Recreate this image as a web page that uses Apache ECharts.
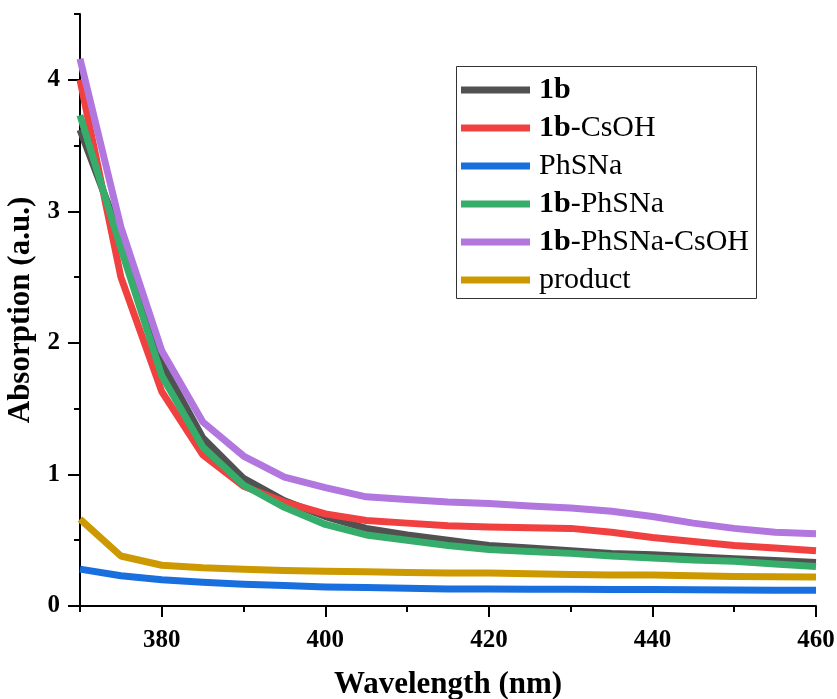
<!DOCTYPE html>
<html>
<head>
<meta charset="utf-8">
<script src="https://cdn.jsdelivr.net/npm/echarts@6/dist/echarts.min.js"></script>
<style>
html,body{margin:0;padding:0;background:#fff;}
#c{width:837px;height:699px;}
</style>
</head>
<body>
<div id="c"></div>
<script>
var wavelengths = [370,375,380,385,390,395,400,405,410,415,420,425,430,435,440,445,450,455,460];
var s1b        = [3.62,2.80,1.85,1.28,0.97,0.80,0.68,0.59,0.54,0.50,0.46,0.44,0.42,0.40,0.39,0.375,0.36,0.345,0.33];
var s1bCsOH    = [4.00,2.50,1.63,1.15,0.91,0.79,0.70,0.65,0.63,0.61,0.60,0.595,0.59,0.56,0.52,0.49,0.46,0.44,0.42];
var sPhSNa     = [0.28,0.23,0.20,0.18,0.165,0.155,0.145,0.14,0.135,0.13,0.13,0.128,0.127,0.125,0.125,0.123,0.122,0.12,0.12];
var s1bPhSNa   = [3.73,2.72,1.75,1.21,0.92,0.75,0.62,0.54,0.50,0.46,0.43,0.415,0.40,0.38,0.365,0.35,0.34,0.32,0.30];
var s1bPhSNaCs = [4.16,2.88,1.94,1.40,1.14,0.98,0.90,0.83,0.81,0.79,0.78,0.76,0.745,0.72,0.68,0.63,0.59,0.56,0.55];
var sProduct   = [0.66,0.38,0.31,0.29,0.28,0.27,0.265,0.26,0.255,0.25,0.25,0.245,0.24,0.235,0.235,0.23,0.225,0.222,0.22];

var seriesNames = ['1b','1b-CsOH','PhSNa','1b-PhSNa','1b-PhSNa-CsOH','product'];
var seriesValues = [s1b, s1bCsOH, sPhSNa, s1bPhSNa, s1bPhSNaCs, sProduct];
var colors = ['#515151','#F14040','#1A6FDF','#37AD6B','#B177DE','#CC9900'];

var xMajor = [380,400,420,440,460];
var xMinor = [370,390,410,430,450];
var yMajor = [0,1,2,3,4];
var yMinor = [0.5,1.5,2.5,3.5,4.5];

var FONT = '"Liberation Serif","Times New Roman",serif';

function pairs(vals){
  return wavelengths.map(function(x,i){ return [x, vals[i]]; });
}

var series = seriesNames.map(function(n,i){
  return {
    name: n, type: 'line', xAxisIndex: 0, yAxisIndex: 0,
    data: pairs(seriesValues[i]),
    showSymbol: false, symbol: 'none',
    lineStyle: {width: 7, color: colors[i], join: 'round', cap: 'butt'},
    itemStyle: {color: colors[i]}
  };
});

var chart = echarts.init(document.getElementById('c'), null, {renderer: 'canvas'});
chart.setOption({
  animation: false,
  backgroundColor: '#fff',
  color: colors,
  grid: {left: 80, right: 21, top: 14, bottom: 93, containLabel: false, outerBoundsMode: 'none'},
  graphic: [{
    type: 'rect', z: 1, silent: true,
    shape: {x: 456.5, y: 66.5, width: 300, height: 232},
    style: {fill: '#fff', stroke: '#333', lineWidth: 1}
  }],
  legend: {
    orient: 'vertical', left: 456, top: 66, z: 5,
    icon: 'rect', itemWidth: 69, itemHeight: 7, itemGap: 8,
    padding: [9, 4, 5, 5],
    borderWidth: 0,
    align: 'left',
    data: seriesNames,
    formatter: function(name){
      if (name === '1b') return '{b|1b}';
      if (name.indexOf('1b') === 0) return '{b|1b}{n|' + name.slice(2) + '}';
      return '{f|' + name + '}';
    },
    textStyle: {
      fontFamily: FONT, fontSize: 30, color: '#000', lineHeight: 30,
      rich: {
        b: {fontFamily: FONT, fontSize: 30, fontWeight: 'bold', color: '#000', lineHeight: 30, padding: [0,0,0,4]},
        n: {fontFamily: FONT, fontSize: 30, color: '#000', lineHeight: 30},
        f: {fontFamily: FONT, fontSize: 30, color: '#000', lineHeight: 30, padding: [0,0,0,4]}
      }
    }
  },
  xAxis: [{
    type: 'value', min: 370, max: 460, position: 'bottom',
    name: 'Wavelength (nm)', nameLocation: 'middle', nameGap: 63,
    nameTextStyle: {fontFamily: FONT, fontSize: 31, fontWeight: 'bold', color: '#000'},
    axisLine: {show: true, onZero: false, lineStyle: {color: '#000', width: 2}},
    axisTick: {show: true, inside: false, length: 11, customValues: xMajor, lineStyle: {color: '#000', width: 2}},
    axisLabel: {customValues: xMajor, margin: 22, fontFamily: FONT, fontSize: 25, fontWeight: 'bold', color: '#000'},
    splitLine: {show: false}
  }, {
    type: 'value', min: 370, max: 460, position: 'bottom', gridIndex: 0,
    axisLine: {show: false},
    axisTick: {show: true, length: 6, customValues: xMinor, lineStyle: {color: '#000', width: 2}},
    axisLabel: {show: false},
    splitLine: {show: false}
  }],
  yAxis: [{
    type: 'value', min: 0, max: 4.5, position: 'left',
    name: 'Absorption (a.u.)', nameLocation: 'middle', nameGap: 42, nameRotate: 90,
    nameTextStyle: {fontFamily: FONT, fontSize: 31, fontWeight: 'bold', color: '#000'},
    axisLine: {show: true, onZero: false, lineStyle: {color: '#000', width: 2}},
    axisTick: {show: true, inside: false, length: 12, customValues: yMajor, lineStyle: {color: '#000', width: 2}},
    axisLabel: {customValues: yMajor, margin: 20, fontFamily: FONT, fontSize: 25, fontWeight: 'bold', color: '#000'},
    splitLine: {show: false}
  }, {
    type: 'value', min: 0, max: 4.5, position: 'left', gridIndex: 0,
    axisLine: {show: false},
    axisTick: {show: true, length: 6, customValues: yMinor, lineStyle: {color: '#000', width: 2}},
    axisLabel: {show: false},
    splitLine: {show: false}
  }],
  series: series
});
</script>
</body>
</html>
